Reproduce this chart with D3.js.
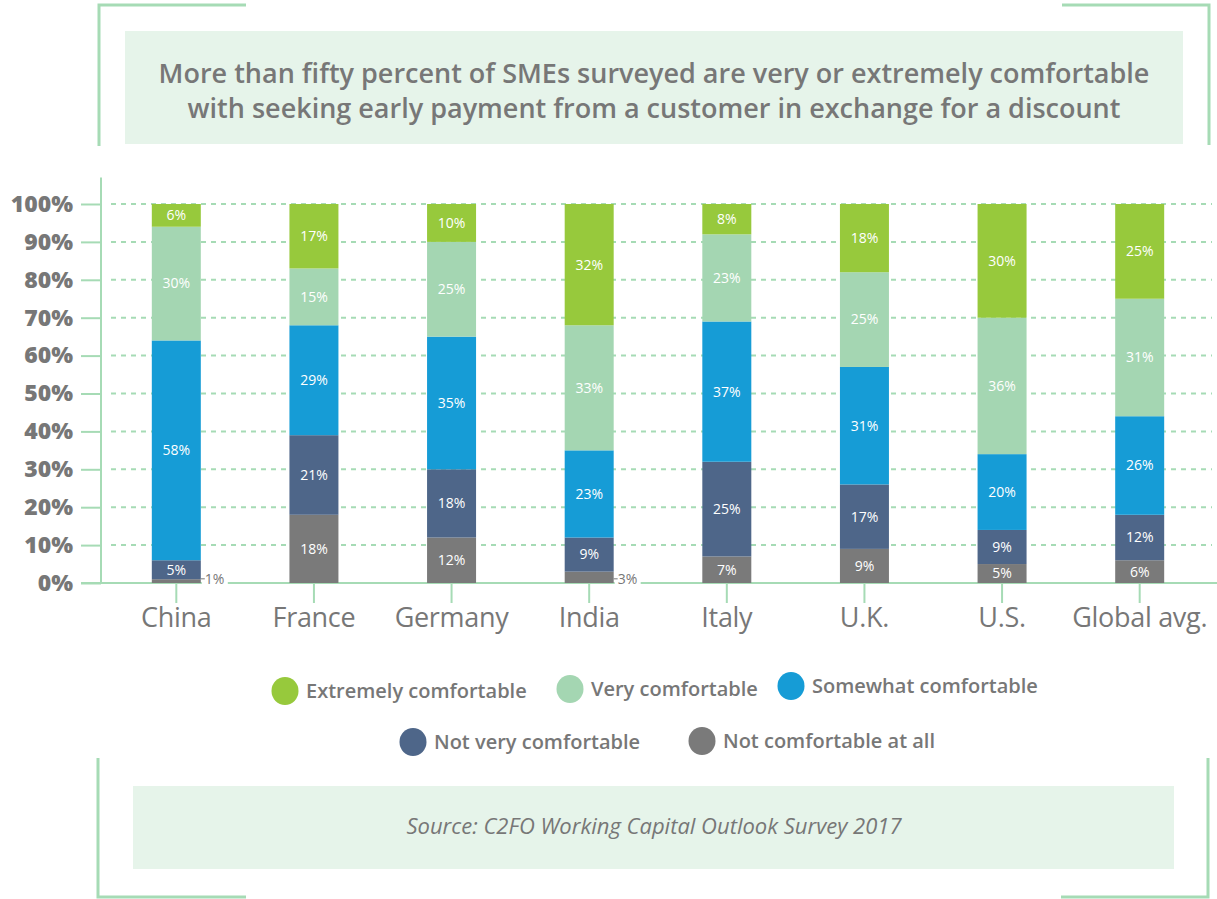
<!DOCTYPE html>
<html>
<head>
<meta charset="utf-8">
<script src="https://cdn.jsdelivr.net/npm/d3@7"></script>
<style>
  body { margin: 0; background: #fff; }
  text { font-family: "Open Sans", sans-serif; }
</style>
</head>
<body>
<script>
var countries = ["China", "France", "Germany", "India", "Italy", "U.K.", "U.S.", "Global avg."];
var series = ["Not comfortable at all", "Not very comfortable", "Somewhat comfortable", "Very comfortable", "Extremely comfortable"];
var notAtAll   = [1, 18, 12, 3, 7, 9, 5, 6];
var notVery    = [5, 21, 18, 9, 25, 17, 9, 12];
var somewhat   = [58, 29, 35, 23, 37, 31, 20, 26];
var very       = [30, 15, 25, 33, 23, 25, 36, 31];
var extremely  = [6, 17, 10, 32, 8, 18, 30, 25];
var yTicks = [0, 10, 20, 30, 40, 50, 60, 70, 80, 90, 100];
var colors = ["#7a7a7a", "#4e6689", "#169cd6", "#a4d6b2", "#97c93c"];

var grey = "#777777";
var green = "#a6dbb5";

var rows = countries.map(function(c, i) {
  return {country: c, s0: notAtAll[i], s1: notVery[i], s2: somewhat[i], s3: very[i], s4: extremely[i]};
});
var stack = d3.stack().keys(["s0", "s1", "s2", "s3", "s4"])(rows);

var svg = d3.select("body").append("svg")
  .attr("width", 1217)
  .attr("height", 899);

var x = d3.scaleBand().domain(countries).range([83, 1233]).paddingInner(0.644).paddingOuter(0.5);
var y = d3.scaleLinear().domain([0, 100]).range([583, 204]);

// frame corners
var frame = [
  [[99, 146], [99, 5], [246, 5]],
  [[1062, 5], [1209, 5], [1209, 145]],
  [[98, 758], [98, 897], [246, 897]],
  [[1061, 897], [1208, 897], [1208, 758]]
];
svg.selectAll("path.frame").data(frame).enter().append("path")
  .attr("class", "frame")
  .attr("d", d3.line())
  .attr("fill", "none")
  .attr("stroke", green)
  .attr("stroke-width", 3);

// title box
svg.append("rect").attr("x", 125).attr("y", 31).attr("width", 1058).attr("height", 113).attr("fill", "#e6f4ea");
svg.append("text").attr("x", 654).attr("y", 83).attr("text-anchor", "middle")
  .attr("font-size", 27).attr("font-weight", 600).attr("fill", grey)
  .text("More than fifty percent of SMEs surveyed are very or extremely comfortable");
svg.append("text").attr("x", 654).attr("y", 118).attr("text-anchor", "middle")
  .attr("font-size", 27).attr("font-weight", 600).attr("fill", grey)
  .text("with seeking early payment from a customer in exchange for a discount");

// gridlines
svg.selectAll("line.grid").data(yTicks.slice(1)).enter().append("line")
  .attr("x1", 111).attr("x2", 1212)
  .attr("y1", function(d) { return y(d); })
  .attr("y2", function(d) { return y(d); })
  .attr("stroke", green).attr("stroke-width", 2)
  .attr("stroke-dasharray", "5,5");

// axes
var yAxis = svg.append("g").attr("transform", "translate(101,0)")
  .call(d3.axisLeft(y).tickValues(yTicks).tickSize(20).tickPadding(8).tickFormat(function(d) { return d + "%"; }));
yAxis.select(".domain").remove();
yAxis.selectAll(".tick line").attr("stroke", green).attr("stroke-width", 2);
yAxis.selectAll(".tick text").attr("font-size", 23).attr("font-weight", 800).attr("fill", grey)
  .attr("font-family", "'Open Sans', sans-serif");

svg.append("line").attr("x1", 101).attr("x2", 101).attr("y1", y(107)).attr("y2", y(0))
  .attr("stroke", green).attr("stroke-width", 2);
svg.append("line").attr("x1", 81).attr("x2", 1217).attr("y1", y(0)).attr("y2", y(0))
  .attr("stroke", green).attr("stroke-width", 2);

var xAxis = svg.append("g").attr("transform", "translate(0," + y(0) + ")")
  .call(d3.axisBottom(x).tickSize(20).tickPadding(5));
xAxis.select(".domain").remove();
xAxis.selectAll(".tick line").attr("stroke", green).attr("stroke-width", 2);
xAxis.selectAll(".tick text").attr("font-size", 27).attr("font-weight", 500).attr("fill", grey)
  .attr("letter-spacing", -0.3)
  .attr("font-family", "'Open Sans', sans-serif");

// bars
var layer = svg.selectAll("g.layer").data(stack).enter().append("g")
  .attr("class", "layer")
  .attr("fill", function(d, i) { return colors[i]; });

layer.selectAll("rect").data(function(d) { return d; }).enter().append("rect")
  .attr("x", function(d) { return x(d.data.country); })
  .attr("y", function(d) { return y(d[1]); })
  .attr("width", x.bandwidth())
  .attr("height", function(d) { return y(d[0]) - y(d[1]); });

// labels inside
layer.selectAll("text").data(function(d) { return d.filter(function(e) { return e[1] - e[0] >= 4; }); })
  .enter().append("text")
  .attr("x", function(d) { return x(d.data.country) + x.bandwidth() / 2; })
  .attr("y", function(d) { return (y(d[0]) + y(d[1])) / 2; })
  .attr("dy", "0.35em")
  .attr("text-anchor", "middle")
  .attr("font-size", 14)
  .attr("font-weight", 500)
  .attr("fill", "#fff")
  .text(function(d) { return (d[1] - d[0]) + "%"; });

// small labels outside
var small = stack[0].filter(function(d) { return d[1] - d[0] < 4; });
var sg = svg.selectAll("g.small").data(small).enter().append("g").attr("class", "small");
sg.append("rect")
  .attr("x", function(d) { return x(d.data.country) + x.bandwidth() + 1; })
  .attr("y", y(0) - 12)
  .attr("width", 26).attr("height", 16)
  .attr("fill", "#fff");
sg.append("line")
  .attr("x1", function(d) { return x(d.data.country) + x.bandwidth(); })
  .attr("x2", function(d) { return x(d.data.country) + x.bandwidth() + 4; })
  .attr("y1", y(1.1)).attr("y2", y(1.1))
  .attr("stroke", grey).attr("stroke-width", 1);
sg.append("text")
  .attr("x", function(d) { return x(d.data.country) + x.bandwidth() + 4; })
  .attr("y", y(1.1))
  .attr("dy", "0.35em")
  .attr("font-size", 14)
  .attr("fill", grey)
  .text(function(d) { return (d[1] - d[0]) + "%"; });

// legend
var legend = [
  {k: 4, cx: 285, cy: 691},
  {k: 3, cx: 570, cy: 689},
  {k: 2, cx: 791, cy: 686},
  {k: 1, cx: 413, cy: 742},
  {k: 0, cx: 702, cy: 741}
];
var lg = svg.selectAll("g.legend").data(legend).enter().append("g").attr("class", "legend");
lg.append("ellipse")
  .attr("cx", function(d) { return d.cx; })
  .attr("cy", function(d) { return d.cy; })
  .attr("rx", 13.5).attr("ry", 14)
  .attr("fill", function(d) { return colors[d.k]; });
lg.append("text")
  .attr("x", function(d) { return d.cx + 21; })
  .attr("y", function(d) { return d.cy; })
  .attr("dy", "0.35em")
  .attr("font-size", 20)
  .attr("font-weight", 600)
  .attr("fill", grey)
  .text(function(d) { return series[d.k]; });

// source box
svg.append("rect").attr("x", 133).attr("y", 786).attr("width", 1041).attr("height", 83).attr("fill", "#e6f4ea");
svg.append("text").attr("x", 654).attr("y", 834).attr("text-anchor", "middle")
  .attr("font-size", 22).attr("font-style", "italic").attr("fill", grey)
  .text("Source: C2FO Working Capital Outlook Survey 2017");
</script>
</body>
</html>
